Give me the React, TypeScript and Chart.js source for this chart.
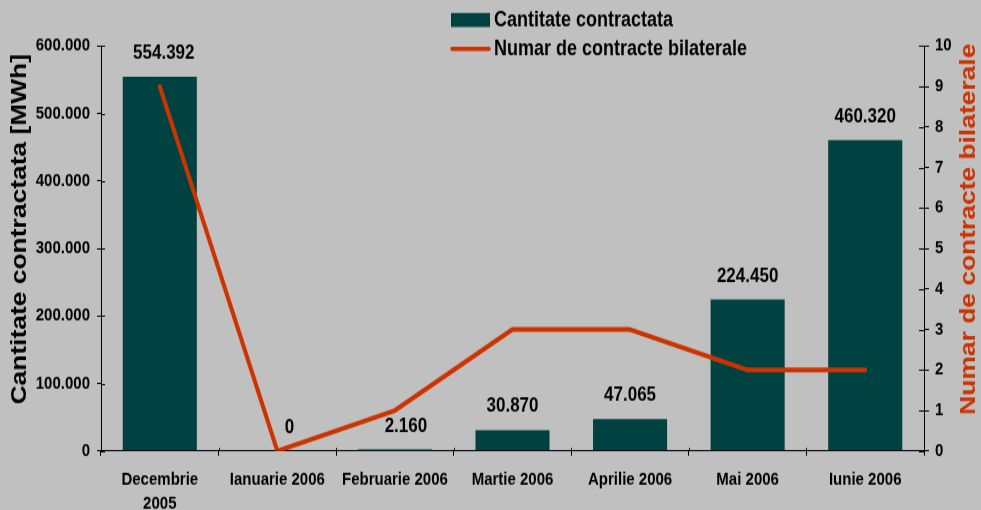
import React, { useEffect, useRef } from "react";
import { Chart, registerables } from "chart.js";

Chart.register(...registerables);

const categories: (string | string[])[] = [
  ["Decembrie", "2005"],
  "Ianuarie 2006",
  "Februarie 2006",
  "Martie 2006",
  "Aprilie 2006",
  "Mai 2006",
  "Iunie 2006",
];
const quantityMWh = [554392, 0, 2160, 30870, 47065, 224450, 460320];
const contractCount = [9, 0, 1, 3, 3, 2, 2];
const leftTicksMax = 600000;
const rightTicksMax = 10;

const seriesNames = ["Cantitate contractata", "Numar de contracte bilaterale"];
const leftTitle = "Cantitate contractata [MWh]";
const rightTitle = "Numar de contracte bilaterale";

const FONT = "'Liberation Sans', Arial, sans-serif";
const BAR = "#004242";
const RED = "#CC3300";
const BG = "#C0C0C0";
const SY = 1.2; // vertical stretch of the reference
const W = 981;
const H = 425;

const labelDx = [4, 12, 11, 0, 0, 0, 0];

const fmt = (v: number) =>
  String(Math.round(v)).replace(/\B(?=(\d{3})+(?!\d))/g, ".");

const decorPlugin = {
  id: "decor",
  beforeDraw(chart: any) {
    const ctx = chart.ctx;
    ctx.save();
    ctx.fillStyle = BG;
    ctx.fillRect(0, 0, chart.width, chart.height);
    ctx.restore();
  },
  afterDraw(chart: any) {
    const ctx = chart.ctx;
    const { left, right, bottom } = chart.chartArea;
    const y = chart.scales.y;
    const y1 = chart.scales.y1;
    ctx.save();
    ctx.strokeStyle = "#000";
    ctx.lineWidth = 1;
    ctx.beginPath();
    y.ticks.forEach((t: any) => {
      const py = Math.round(y.getPixelForValue(t.value)) + 0.5;
      ctx.moveTo(left, py);
      ctx.lineTo(left + 4, py);
    });
    y1.ticks.forEach((t: any) => {
      const py = Math.round(y1.getPixelForValue(t.value)) + 0.5;
      ctx.moveTo(right - 5, py);
      ctx.lineTo(right, py);
    });
    const n = categories.length;
    for (let i = 0; i <= n; i++) {
      const px = Math.round(left + ((right - left) * i) / n) + 0.5;
      ctx.moveTo(px, bottom - 2.5);
      ctx.lineTo(px, bottom);
    }
    ctx.stroke();

    // bar value labels
    const meta = chart.getDatasetMeta(1);
    ctx.fillStyle = "#000";
    ctx.font = `bold 17px ${FONT}`;
    ctx.textAlign = "center";
    ctx.textBaseline = "alphabetic";
    meta.data.forEach((el: any, i: number) => {
      ctx.fillText(fmt(quantityMWh[i]), el.x + labelDx[i], el.y - 15);
    });

    // axis titles
    ctx.font = `bold 22px ${FONT}`;
    ctx.textBaseline = "middle";
    ctx.save();
    ctx.translate(20, 191);
    ctx.rotate(-Math.PI / 2);
    ctx.fillStyle = "#000";
    ctx.fillText(leftTitle, 0, 0);
    ctx.restore();
    ctx.save();
    ctx.translate(969, 191);
    ctx.rotate(-Math.PI / 2);
    ctx.fillStyle = RED;
    ctx.fillText(rightTitle, 0, 0);
    ctx.restore();

    // legend
    ctx.fillStyle = BAR;
    ctx.fillRect(451, 10.8, 39, 11.7);
    ctx.strokeStyle = RED;
    ctx.lineWidth = 3.6;
    ctx.lineCap = "round";
    ctx.beginPath();
    ctx.moveTo(452, 40.8);
    ctx.lineTo(489, 40.8);
    ctx.stroke();
    ctx.fillStyle = "#000";
    ctx.font = `bold 18px ${FONT}`;
    ctx.textAlign = "left";
    ctx.textBaseline = "middle";
    ctx.fillText(seriesNames[0], 494, 17);
    ctx.fillText(seriesNames[1], 494, 41);
    ctx.restore();
  },
};

export default function App() {
  const ref = useRef<HTMLCanvasElement | null>(null);
  useEffect(() => {
    document.body.style.margin = "0";
    document.body.style.background = BG;
    const tickFont = { family: FONT, size: 15, weight: "bold" as const };
    const chart = new Chart(ref.current as HTMLCanvasElement, {
      type: "bar",
      data: {
        labels: categories,
        datasets: [
          {
            type: "line" as const,
            label: seriesNames[1],
            data: contractCount,
            yAxisID: "y1",
            borderColor: RED,
            backgroundColor: RED,
            borderWidth: 4,
            pointRadius: 0,
            borderCapStyle: "round",
            borderJoinStyle: "round",
            tension: 0,
            order: 0,
          } as any,
          {
            type: "bar" as const,
            label: seriesNames[0],
            data: quantityMWh,
            yAxisID: "y",
            backgroundColor: BAR,
            borderWidth: 0,
            barPercentage: 0.63,
            categoryPercentage: 1,
            order: 1,
          },
        ],
      },
      options: {
        animation: false,
        responsive: false,
        devicePixelRatio: 1,
        events: [],
        layout: { padding: { top: 38.3, left: 0, right: 0, bottom: 0 } },
        plugins: { legend: { display: false }, tooltip: { enabled: false } },
        scales: {
          x: {
            offset: true,
            grid: {
              offset: true,
              drawOnChartArea: false,
              drawTicks: true,
              tickLength: 4,
              color: "#000",
            },
            border: { color: "#000", width: 1 },
            ticks: {
              font: { family: FONT, size: 15, weight: "bold", lineHeight: 1.33 },
              color: "#000",
              maxRotation: 0,
              autoSkip: false,
              padding: 10,
            },
            afterFit: (s: any) => {
              s.height = 49.2;
            },
          },
          y: {
            position: "left",
            min: 0,
            max: leftTicksMax,
            grid: { drawOnChartArea: false, tickLength: 4, color: "#000" },
            border: { color: "#000", width: 1 },
            ticks: {
              stepSize: 100000,
              font: tickFont,
              color: "#000",
              padding: 7,
              callback: (v: any) => fmt(Number(v)),
            },
            afterFit: (s: any) => {
              s.width = 101;
            },
          },
          y1: {
            position: "right",
            min: 0,
            max: rightTicksMax,
            grid: { drawOnChartArea: false, tickLength: 5, color: "#000" },
            border: { color: "#000", width: 1 },
            ticks: {
              stepSize: 1,
              font: tickFont,
              color: "#000",
              padding: 6,
            },
            afterFit: (s: any) => {
              s.width = 57;
            },
          },
        },
      },
      plugins: [decorPlugin],
    } as any);
    return () => chart.destroy();
  }, []);
  return (
    <div style={{ width: W, height: Math.round(H * SY), background: BG }}>
      <canvas
        ref={ref}
        width={W}
        height={H}
        style={{ display: "block", width: W, height: Math.round(H * SY) }}
      />
    </div>
  );
}
